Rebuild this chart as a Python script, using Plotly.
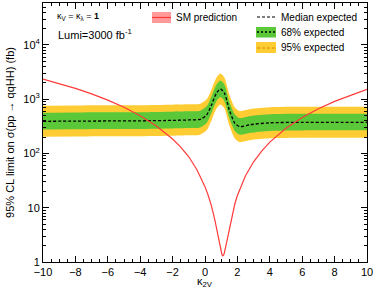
import plotly.graph_objects as go

# SM prediction curve (fb) vs kappa_2V
sm_k = [-10, -9, -8, -7, -6, -5, -4, -3, -2, -1.5, -1, -0.5, 0, 0.2, 0.4, 0.6, 0.7, 0.8, 0.9, 1.0, 1.05, 1.1, 1.15, 1.2, 1.3, 1.4, 1.5, 1.6, 1.7, 1.85, 2.0, 2.5, 3, 3.5, 4, 5, 6, 7, 8, 9, 10]
sm_xs = [2360, 1955, 1587, 1256, 965, 713, 498, 322, 185, 131, 87, 50.3, 24.5, 16.8, 10.7, 6.1, 4.4, 3.0, 2.07, 1.49, 1.35, 1.3, 1.35, 1.49, 2.07, 3.0, 4.36, 6.1, 8.2, 12.1, 16.8, 38.8, 70.4, 111, 162, 292, 461, 668, 913, 1196, 1518]

# Expected limits
lim_k = [-10, -8, -6, -4, -2, -1, -0.3, 0.1, 0.4, 0.7, 0.95, 1.2, 1.5, 1.85, 2.15, 2.8, 4, 6, 8, 10]
median = [392, 395, 398, 400, 408, 415, 426, 513, 783, 1285, 1545, 1300, 634, 360, 312, 340, 368, 375, 376, 376]
g_up = [564, 569, 573, 576, 588, 598, 613, 739, 1128, 1850, 2225, 1872, 913, 518, 449, 490, 530, 540, 541, 541]
g_lo = [278, 280, 283, 284, 290, 295, 302, 364, 556, 912, 1097, 923, 450, 256, 222, 241, 261, 266, 267, 267]
y_up = [760, 766, 772, 776, 792, 805, 826, 995, 1519, 2493, 2997, 2522, 1230, 698, 605, 660, 714, 728, 729, 729]
y_lo = [204, 205, 207, 208, 212, 216, 222, 267, 407, 668, 803, 676, 330, 187, 162, 177, 191, 195, 196, 196]

x_ticks = [-10, -8, -6, -4, -2, 0, 2, 4, 6, 8, 10]
y_ticks = [1, 10, 100, 1000, 10000]
y_ticktext = ["1", "10", "10<sup>2</sup>", "10<sup>3</sup>", "10<sup>4</sup>"]

GREEN = "#5bc83a"
YELLOW = "#ffcc33"
RED = "#ff3a3a"
FONT = "Liberation Sans, Arial, sans-serif"

fig = go.Figure()
sp = dict(shape="spline", smoothing=0.7)
fig.add_trace(go.Scatter(x=lim_k, y=y_lo, mode="lines", line=dict(width=0, **sp), showlegend=False, hoverinfo="skip"))
fig.add_trace(go.Scatter(x=lim_k, y=y_up, mode="lines", line=dict(width=0, **sp), fill="tonexty", fillcolor=YELLOW, showlegend=False))
fig.add_trace(go.Scatter(x=lim_k, y=g_lo, mode="lines", line=dict(width=0, **sp), showlegend=False, hoverinfo="skip"))
fig.add_trace(go.Scatter(x=lim_k, y=g_up, mode="lines", line=dict(width=0, **sp), fill="tonexty", fillcolor=GREEN, showlegend=False))
fig.add_trace(go.Scatter(x=lim_k, y=median, mode="lines", line=dict(color="black", width=1.3, dash="3px,2px", **sp), showlegend=False))
fig.add_trace(go.Scatter(x=sm_k, y=sm_xs, mode="lines", line=dict(color=RED, width=1.2), showlegend=False))

# Legend (manual)
shapes = []
annots = []
def box(x0, y0, x1, y1, color):
    shapes.append(dict(type="rect", xref="paper", yref="paper", x0=x0, x1=x1, y0=y0, y1=y1, fillcolor=color, line=dict(width=0), layer="above"))
def hline(x0, x1, y, color, dash="solid", width=1.2):
    shapes.append(dict(type="line", xref="paper", yref="paper", x0=x0, x1=x1, y0=y, y1=y, line=dict(color=color, width=width, dash=dash), layer="above"))

W = 324.0; H = 259.0; L = 43.0; T = 3.0
def px(x): return (x - L) / W
def py(y): return 1 - (y - T) / H

box(px(152), py(23), px(171), py(12), "#ff9a9a")
hline(px(152), px(171), py(17.5), RED)
annots.append(dict(x=px(174), y=py(17), text="SM prediction", showarrow=False, xanchor="left", yanchor="middle", xref="paper", yref="paper", font=dict(size=10, family=FONT, color="black")))
hline(px(257), px(276), py(17), "black", dash="3px,2px", width=1.2)
annots.append(dict(x=px(279), y=py(17), text="Median expected", showarrow=False, xanchor="left", yanchor="middle", xref="paper", yref="paper", font=dict(size=10, family=FONT, color="black")))
box(px(256), py(37.5), px(276), py(27), GREEN)
hline(px(257), px(276), py(32), "black", dash="2px,2px", width=1.5)
annots.append(dict(x=px(279), y=py(32.5), text="68% expected", showarrow=False, xanchor="left", yanchor="middle", xref="paper", yref="paper", font=dict(size=10, family=FONT, color="black")))
box(px(256), py(53), px(276), py(42), YELLOW)
hline(px(257), px(276), py(48), "#e0a010", dash="3px,2px", width=1.5)
annots.append(dict(x=px(279), y=py(48), text="95% expected", showarrow=False, xanchor="left", yanchor="middle", xref="paper", yref="paper", font=dict(size=10, family=FONT, color="black")))

annots.append(dict(x=px(55), y=py(16), text="κ<sub>V</sub> = κ<sub>λ</sub> = <b>1</b>", showarrow=False, xanchor="left", yanchor="middle", xref="paper", yref="paper", font=dict(size=9, family=FONT, color="black")))
annots.append(dict(x=px(56), y=py(34), text="Lumi=3000 fb<sup>-1</sup>", showarrow=False, xanchor="left", yanchor="middle", xref="paper", yref="paper", font=dict(size=11, family=FONT, color="black")))
# x-axis title
annots.append(dict(x=px(205), y=py(282), text="κ<sub>2V</sub>", showarrow=False, xanchor="center", yanchor="middle", xref="paper", yref="paper", font=dict(size=11, family=FONT, color="black")))

fig.update_layout(
    width=374, height=292,
    margin=dict(l=43, r=7, t=3, b=30),
    paper_bgcolor="white", plot_bgcolor="white",
    font=dict(family=FONT, size=11, color="black"),
    shapes=shapes, annotations=annots, showlegend=False,
)
fig.update_xaxes(
    range=[-10, 10], tickvals=x_ticks,
    ticks="inside", ticklen=6, tickcolor="black", showline=True, linecolor="black", linewidth=1,
    mirror="allticks", showgrid=False, zeroline=False,
    minor=dict(ticks="inside", ticklen=3, dtick=0.5, tickcolor="black", showgrid=False),
    ticklabeloverflow="allow", automargin=False,
    tickfont=dict(size=11),
)
fig.update_yaxes(
    type="log", range=[0, 4.774],
    tickvals=y_ticks, ticktext=y_ticktext,
    ticks="inside", ticklen=6, tickcolor="black", showline=True, linecolor="black", linewidth=1,
    mirror="allticks", showgrid=False, zeroline=False,
    minor=dict(ticks="inside", ticklen=3, dtick="D1", tickcolor="black", showgrid=False),
    title=dict(text="95% CL limit on σ(pp → qqHH) (fb)", font=dict(size=11), standoff=6),
    tickfont=dict(size=11), automargin=False,
)

fig.write_html(
    "out.html",
    config={"displayModeBar": False, "staticPlot": True},
    post_script="document.body.style.margin='0';document.body.style.overflow='hidden';",
)
